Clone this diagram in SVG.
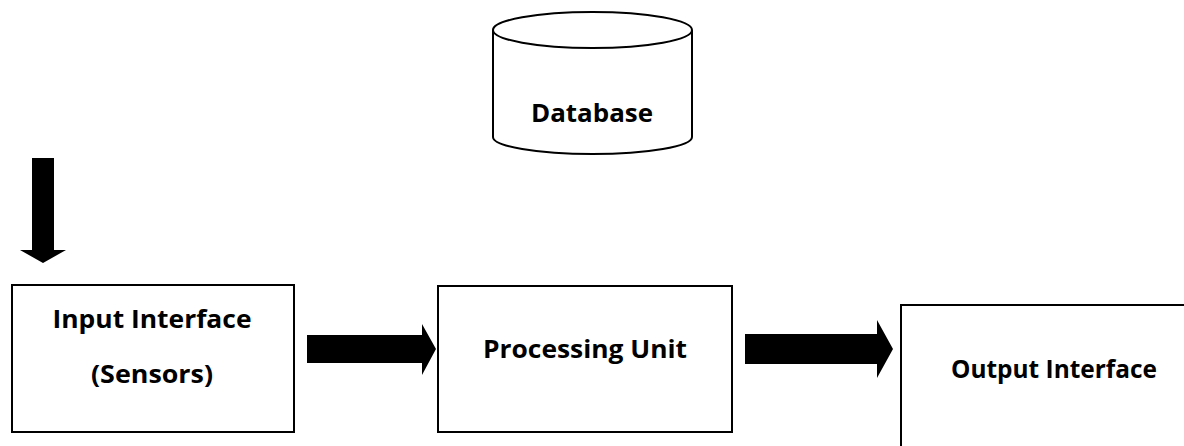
<svg xmlns="http://www.w3.org/2000/svg" width="1184" height="446" viewBox="0 0 1184 446">
<style>
.box{fill:#fff;stroke:#000;stroke-width:2}
.lbl{font-family:"Open Sans","Liberation Sans",sans-serif;font-weight:bold;font-size:25px;fill:#000;text-anchor:middle}
.arrow{fill:#000;stroke:none}
</style>
<rect width="1184" height="446" fill="#fff"/>
<g id="database">
<path class="box" d="M493,30 L493,137 A99.5,17 0 0 0 692,137 L692,30"/>
<ellipse class="box" cx="592.5" cy="30" rx="99.5" ry="18"/>
<text class="lbl" x="592" y="122" textLength="122" lengthAdjust="spacingAndGlyphs">Database</text>
</g>
<g id="input">
<rect class="box" x="12" y="285" width="282" height="147"/>
<text class="lbl" x="152" y="328" textLength="199" lengthAdjust="spacingAndGlyphs">Input Interface</text>
<text class="lbl" x="152" y="383" textLength="122" lengthAdjust="spacingAndGlyphs">(Sensors)</text>
</g>
<g id="processing">
<rect class="box" x="438" y="286" width="294" height="146"/>
<text class="lbl" x="585" y="358" textLength="204" lengthAdjust="spacingAndGlyphs">Processing Unit</text>
</g>
<g id="output">
<rect class="box" x="901" y="305" width="300" height="160"/>
<text class="lbl" x="1054" y="378" textLength="206" lengthAdjust="spacingAndGlyphs">Output Interface</text>
</g>
<g id="connectors">
<polygon class="arrow" points="32,158 54,158 54,250 66,250 43,263 20,250 32,250"/>
<polygon class="arrow" points="307,335 422,335 422,324 436,349 422,375 422,363 307,363"/>
<polygon class="arrow" points="745,334 877,334 877,320 893,349 877,378 877,364 745,364"/>
</g>
</svg>
